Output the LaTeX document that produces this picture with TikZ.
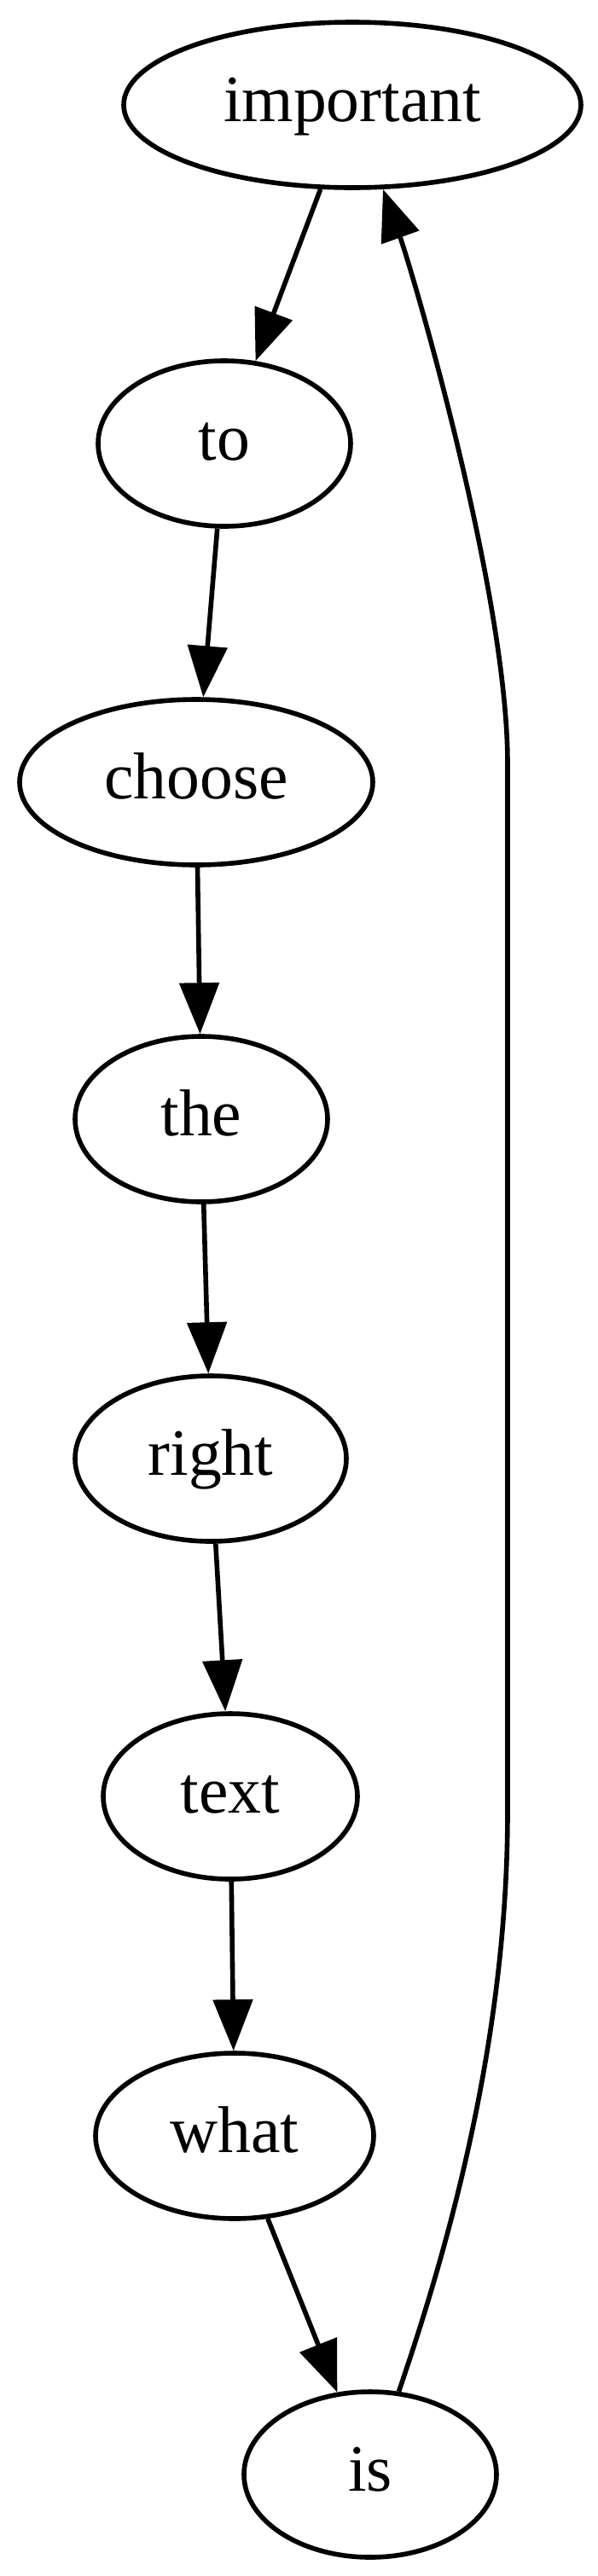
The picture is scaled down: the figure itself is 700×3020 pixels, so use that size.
\documentclass[tikz,border=0pt]{standalone}
\usepackage{fontspec}
\setmainfont{Liberation Serif}
\usetikzlibrary{shapes.geometric,arrows.meta}

\tikzset{every picture/.style={line width=1.4pt}}
\tikzset{
	wordnode/.style={draw, ellipse, inner sep=0pt, minimum height=48.5pt, font=\fontsize{19.4pt}{23pt}\selectfont, text height=13.2pt, text depth=3.5pt},
	edgearrow/.style={-{Triangle[length=15pt,width=11.5pt]}}
}

\begin{document}
\begin{tikzpicture}[x=0.25pt,y=0.25pt,yscale=-1]
	\useasboundingbox (0,0) rectangle (700,3020);
	
	%Shape: Ellipse [important]
	\node [wordnode, minimum width=134pt] (important) at (413,123) {important};
	%Shape: Ellipse [to]
	\node [wordnode, minimum width=74pt] (to) at (263,520) {to};
	%Shape: Ellipse [choose]
	\node [wordnode, minimum width=103.5pt] (choose) at (230,917) {choose};
	%Shape: Ellipse [the]
	\node [wordnode, minimum width=74pt] (the) at (236,1312) {the};
	%Shape: Ellipse [right]
	\node [wordnode, minimum width=79.5pt] (right) at (247,1710) {right};
	%Shape: Ellipse [text]
	\node [wordnode, minimum width=74.5pt] (text) at (270,2106) {text};
	%Shape: Ellipse [what]
	\node [wordnode, minimum width=81.5pt] (what) at (275,2504) {what};
	%Shape: Ellipse [is]
	\node [wordnode, minimum width=74pt] (is) at (434,2901) {is};
	
	%Straight Lines
	\draw [edgearrow] (important) -- (to);
	\draw [edgearrow] (to) -- (choose);
	\draw [edgearrow] (choose) -- (the);
	\draw [edgearrow] (the) -- (right);
	\draw [edgearrow] (right) -- (text);
	\draw [edgearrow] (text) -- (what);
	\draw [edgearrow] (what) -- (is);
	
	%Curve Lines
	\coordinate (backlow) at (595,2124);
	\coordinate (backhigh) at (595,895);
	\draw [edgearrow] (is.71) .. controls (520,2650) and (595,2400) .. (backlow) -- (backhigh) .. controls (595,695) and (483,317) .. (important.-70);
	
\end{tikzpicture}
\end{document}
